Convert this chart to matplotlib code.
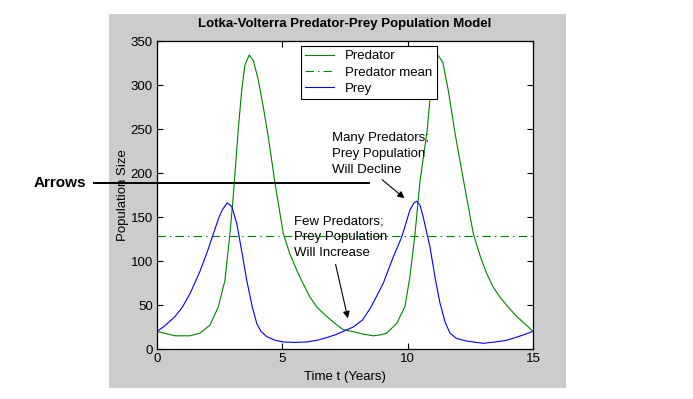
import matplotlib
matplotlib.use("Agg")
import matplotlib.pyplot as plt
from matplotlib.patches import Rectangle
from matplotlib.lines import Line2D

plt.rcParams['font.family'] = ['Liberation Sans', 'DejaVu Sans']
plt.rcParams['lines.scale_dashes'] = False

# values
prey_t = [0, 0.3, 0.72, 1.0, 1.32, 1.71, 2.0, 2.25, 2.45, 2.6, 2.8, 2.98, 3.18, 3.4,
          3.58, 3.8, 3.98, 4.15, 4.38, 4.7, 5.04, 5.5, 5.97, 6.4, 6.77, 7.1, 7.43,
          7.83, 8.2, 8.5, 8.8, 9.03, 9.43, 9.76, 10.09, 10.25, 10.36, 10.5, 10.62,
          10.89, 11.1, 11.29, 11.5, 11.69, 11.95, 12.36, 13.02, 13.5, 13.95, 14.3,
          14.61, 15]
prey = [20, 26, 37, 47, 63, 88, 110, 131, 148, 158, 166, 162, 143, 108,
        78, 48, 29, 20, 14, 10, 8, 7.5, 8, 10, 13, 16, 20,
        25, 33, 46, 62, 75, 105, 127, 158, 166, 168, 163, 150,
        116, 80, 52, 30, 18, 12, 9, 6.5, 8, 10, 13,
        16, 20]

pred_t = [0, 0.72, 1.32, 1.71, 2.11, 2.45, 2.71, 2.91, 3.04, 3.24, 3.38, 3.51, 3.68,
          3.84, 4.04, 4.24, 4.44, 4.71, 5.04, 5.3, 5.57, 5.8, 6.1, 6.4, 6.77, 7.1,
          7.43, 7.83, 8.2, 8.63, 8.9, 9.16, 9.56, 9.89, 10.09, 10.29, 10.49, 10.78,
          10.92, 11.03, 11.2, 11.4, 11.62, 11.89, 12.25, 12.62, 12.9, 13.15, 13.4,
          13.68, 14.0, 14.35, 14.7, 15]
predator = [20, 15, 15, 18, 27, 48, 78, 131, 173, 249, 294, 323, 334,
            328, 306, 275, 241, 188, 131, 108, 90, 76, 59, 47, 37, 29,
            22, 19.7, 17, 15, 16, 18, 29, 48, 82, 130, 190, 249,
            294, 321, 334, 326, 294, 245, 188, 131, 105, 86, 71,
            59, 48, 37, 28, 20]

pred_mean = 128

W, H = 693, 399
fig = plt.figure(figsize=(W / 100, H / 100), dpi=100, facecolor='white')
# grey figure panel, kept behind the axes
fig.patches.append(Rectangle((109 / W, 1 - 388 / H), (566 - 109) / W, (388 - 14) / H,
                             transform=fig.transFigure, facecolor='#cccccc',
                             edgecolor='none', zorder=-5))

ax = fig.add_axes([157 / W, 1 - 349 / H, (533 - 157) / W, (349 - 41) / H])
ax.set_facecolor('white')

ax.plot(pred_t, predator, color='#008000', lw=0.8, label='Predator')
ax.plot([0, 15], [pred_mean, pred_mean], color='#008000', lw=0.8,
        linestyle=(0, (6, 3, 1, 3)), label='Predator mean')
ax.plot(prey_t, prey, color='#0000ff', lw=0.8, label='Prey')

ax.set_xlim(0, 15)
ax.set_ylim(0, 350)
ax.set_xticks([0, 5, 10, 15])
ax.set_yticks(range(0, 351, 50))
ax.tick_params(direction='in', top=True, right=True, length=4, width=0.8,
               labelsize=9.5, pad=3)
for s in ax.spines.values():
    s.set_linewidth(0.9)

ax.set_title('Lotka-Volterra Predator-Prey Population Model', fontsize=9.5,
             fontweight='bold', pad=10)
ax.set_xlabel('Time t (Years)', fontsize=9.5, labelpad=4)
ax.set_ylabel('Population Size', fontsize=9.5, labelpad=1)

leg = ax.legend(loc='upper left', bbox_to_anchor=(0.382, 0.985), fontsize=9.5,
                fancybox=False, framealpha=1, edgecolor='black', handlelength=2.2,
                borderpad=0.35, labelspacing=0.3, handletextpad=0.8, borderaxespad=0)
leg.get_frame().set_linewidth(0.8)

ax.text(6.98, 247, 'Many Predators;\nPrey Population\nWill Decline', fontsize=9.5,
        va='top', ha='left', linespacing=1.45)
ax.annotate('', xy=(9.96, 169.3), xytext=(8.9, 194.3),
            arrowprops=dict(arrowstyle='-|>', color='black', lw=0.8, mutation_scale=10))
ax.text(5.48, 152, 'Few Predators;\nPrey Population\nWill Increase', fontsize=9.5,
        va='top', ha='left', linespacing=1.45)
ax.annotate('', xy=(7.64, 31.8), xytext=(7.1, 99.2),
            arrowprops=dict(arrowstyle='-|>', color='black', lw=0.8, mutation_scale=10))

# label outside the plot with a line across it
fig.text(60 / W, 1 - 183 / H, 'Arrows', fontsize=11, fontweight='bold',
         ha='center', va='center')
fig.add_artist(Line2D([94 / W, 369 / W], [1 - 183 / H, 1 - 183 / H],
                      transform=fig.transFigure, color='black', lw=1.4, zorder=10))

fig.savefig('out.png', dpi=100, facecolor='white')
